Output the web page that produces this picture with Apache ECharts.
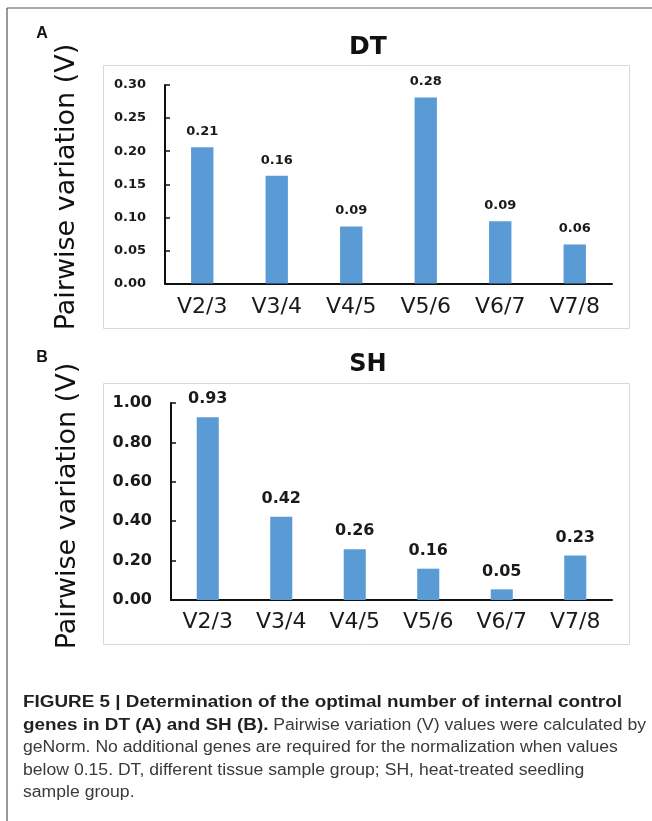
<!DOCTYPE html>
<html>
<head>
<meta charset="utf-8">
<script src="https://cdn.jsdelivr.net/npm/echarts@6/dist/echarts.min.js"></script>
<style>
html,body{margin:0;padding:0;background:#fff;}
#chart{width:652px;height:821px;}
</style>
</head>
<body>
<div id="chart"></div>
<script>
// ---- data ----
const categories = ['V2/3', 'V3/4', 'V4/5', 'V5/6', 'V6/7', 'V7/8'];
const dtValues = [0.206, 0.163, 0.086, 0.281, 0.094, 0.059];
const shValues = [0.928, 0.423, 0.258, 0.159, 0.054, 0.226];
const dtTicks = [0.00, 0.05, 0.10, 0.15, 0.20, 0.25, 0.30];
const shTicks = [0.00, 0.20, 0.40, 0.60, 0.80, 1.00];
const panelTitles = ['DT', 'SH'];
const panelLetters = ['A', 'B'];
const yAxisTitle = 'Pairwise variation (V)';
const captionLines = [
  [['b', 'FIGURE 5 | Determination of the optimal number of internal control']],
  [['b', 'genes in DT (A) and SH (B).'], ['r', ' Pairwise variation (V) values were calculated by']],
  [['r', 'geNorm. No additional genes are required for the normalization when values']],
  [['r', 'below 0.15. DT, different tissue sample group; SH, heat-treated seedling']],
  [['r', 'sample group.']]
];

const chart = echarts.init(document.getElementById('chart'), null, {renderer: 'canvas'});
const BAR = '#5B9BD5';
const AX = '#111';

function yAxisFor(ticks, grid, fs) {
  return {
    type: 'value', gridIndex: grid,
    min: ticks[0], max: ticks[ticks.length - 1], interval: ticks[1] - ticks[0],
    splitLine: {show: false},
    axisLine: {show: true, lineStyle: {color: AX, width: 2}},
    axisTick: {show: true, inside: true, length: 5, lineStyle: {color: AX, width: 1.5}},
    axisLabel: {margin: 19, fontFamily: 'DejaVu Sans', fontWeight: 'bold', fontSize: fs, color: '#1a1a1a',
      formatter: v => v.toFixed(2)}
  };
}
function xAxisFor(grid, margin) {
  return {
    type: 'category', gridIndex: grid, data: categories,
    axisLine: {show: true, lineStyle: {color: AX, width: 2}},
    axisTick: {show: false},
    axisLabel: {margin: margin, fontFamily: 'DejaVu Sans', fontSize: 22, color: '#1a1a1a'}
  };
}
function seriesFor(vals, idx, fs, dist) {
  return {
    type: 'bar', xAxisIndex: idx, yAxisIndex: idx, data: vals, barWidth: '30%',
    itemStyle: {color: BAR},
    label: {show: true, position: 'top', distance: dist, fontFamily: 'DejaVu Sans', fontWeight: 'bold',
      fontSize: fs, color: '#1a1a1a', formatter: p => p.value.toFixed(2)}
  };
}

const graphics = [];
// outer frame (left and top)
graphics.push({type: 'line', shape: {x1: 7, y1: 8, x2: 652, y2: 8}, style: {stroke: '#555', lineWidth: 1.2}});
graphics.push({type: 'line', shape: {x1: 7, y1: 8, x2: 7, y2: 821}, style: {stroke: '#555', lineWidth: 1.2}});
// panel boxes
graphics.push({type: 'rect', shape: {x: 103.5, y: 65.5, width: 526, height: 263}, style: {fill: null, stroke: '#d9d9d9', lineWidth: 1}});
graphics.push({type: 'rect', shape: {x: 103.5, y: 383.5, width: 526, height: 261}, style: {fill: null, stroke: '#d9d9d9', lineWidth: 1}});
// titles
const titleY = [47, 365];
const titleFs = [25, 24];
panelTitles.forEach((t, i) => graphics.push({type: 'text', x: 368, y: titleY[i],
  style: {text: t, align: 'center', verticalAlign: 'middle', fontFamily: 'DejaVu Sans', fontWeight: 'bold', fontSize: titleFs[i], fill: '#111'}}));
// panel letters
const letterY = [34, 358];
panelLetters.forEach((t, i) => graphics.push({type: 'text', x: 42, y: letterY[i],
  style: {text: t, align: 'center', verticalAlign: 'middle', fontFamily: 'Liberation Sans', fontWeight: 'bold', fontSize: 16, fill: '#111'}}));
// y axis titles
const yTitleY = [187, 506];
const yTitleX = [67, 68];
yTitleY.forEach((yy, i) => graphics.push({type: 'text', x: yTitleX[i], y: yy, rotation: Math.PI / 2,
  style: {text: yAxisTitle, align: 'center', verticalAlign: 'middle', fontFamily: 'DejaVu Sans', fontSize: 27, fill: '#111'}}));

// caption (horizontally stretched like the reference scan)
const ctx = document.createElement('canvas').getContext('2d');
const capFonts = {
  b: {weight: 'bold', fill: '#231f20', sx: 1.18},
  r: {weight: 'normal', fill: '#3a3a3a', sx: 1.10}
};
const capFs = 16;
const capY = [703, 725.5, 748, 770.5, 793];
captionLines.forEach((parts, i) => {
  let x = 23;
  parts.forEach(p => {
    const f = capFonts[p[0]];
    ctx.font = f.weight + ' ' + capFs + 'px "Liberation Sans"';
    const w = ctx.measureText(p[1]).width * f.sx;
    graphics.push({type: 'text', x: x, y: capY[i], scaleX: f.sx, scaleY: 1,
      style: {text: p[1], align: 'left', verticalAlign: 'middle', fontFamily: 'Liberation Sans',
        fontWeight: f.weight, fontSize: capFs, fill: f.fill}});
    x += w;
  });
});

chart.setOption({
  backgroundColor: '#fff',
  animation: false,
  grid: [
    {left: 165, right: 40, top: 85, bottom: 821 - 283.5},
    {left: 171, right: 40, top: 403, bottom: 821 - 600}
  ],
  xAxis: [xAxisFor(0, 13), xAxisFor(1, 11)],
  yAxis: [yAxisFor(dtTicks, 0, 13), yAxisFor(shTicks, 1, 16)],
  series: [seriesFor(dtValues, 0, 13, 9), seriesFor(shValues, 1, 16, 10)],
  graphic: graphics
});
</script>
</body>
</html>
